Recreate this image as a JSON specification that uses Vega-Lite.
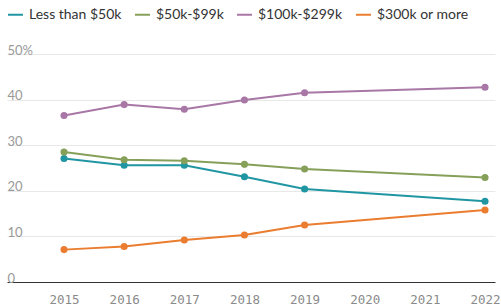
{
  "$schema": "https://vega.github.io/schema/vega-lite/v6.json",
  "width": 488,
  "height": 228,
  "autosize": "none",
  "padding": {"left": 7, "top": 54, "right": 6, "bottom": 25},
  "background": "white",
  "config": {"view": {"stroke": null}, "font": "Lato"},
  "data": {
    "values": [
      {"year": 2015, "group": "Less than $50k", "pct": 27.1},
      {"year": 2016, "group": "Less than $50k", "pct": 25.6},
      {"year": 2017, "group": "Less than $50k", "pct": 25.6},
      {"year": 2018, "group": "Less than $50k", "pct": 23.1},
      {"year": 2019, "group": "Less than $50k", "pct": 20.4},
      {"year": 2022, "group": "Less than $50k", "pct": 17.7},
      {"year": 2015, "group": "$50k-$99k", "pct": 28.5},
      {"year": 2016, "group": "$50k-$99k", "pct": 26.8},
      {"year": 2017, "group": "$50k-$99k", "pct": 26.6},
      {"year": 2018, "group": "$50k-$99k", "pct": 25.8},
      {"year": 2019, "group": "$50k-$99k", "pct": 24.8},
      {"year": 2022, "group": "$50k-$99k", "pct": 22.9},
      {"year": 2015, "group": "$100k-$299k", "pct": 36.5},
      {"year": 2016, "group": "$100k-$299k", "pct": 38.9},
      {"year": 2017, "group": "$100k-$299k", "pct": 37.9},
      {"year": 2018, "group": "$100k-$299k", "pct": 39.9},
      {"year": 2019, "group": "$100k-$299k", "pct": 41.5},
      {"year": 2022, "group": "$100k-$299k", "pct": 42.7},
      {"year": 2015, "group": "$300k or more", "pct": 7.1},
      {"year": 2016, "group": "$300k or more", "pct": 7.8},
      {"year": 2017, "group": "$300k or more", "pct": 9.2},
      {"year": 2018, "group": "$300k or more", "pct": 10.3},
      {"year": 2019, "group": "$300k or more", "pct": 12.5},
      {"year": 2022, "group": "$300k or more", "pct": 15.8}
    ]
  },
  "mark": {"type": "line", "strokeWidth": 2, "point": {"filled": true, "size": 50, "opacity": 1}},
  "encoding": {
    "x": {
      "field": "year",
      "type": "quantitative",
      "scale": {"domain": [2014.052, 2022.166], "nice": false, "zero": false},
      "axis": {
        "values": [2015, 2016, 2017, 2018, 2019, 2020, 2021, 2022],
        "format": "d",
        "title": null,
        "domain": false,
        "ticks": false,
        "grid": false,
        "labelPadding": 11,
        "labelFont": "DejaVu Sans Mono",
        "labelFontSize": 12.5,
        "labelColor": "#8a8a8a",
        "labelFlush": false
      }
    },
    "y": {
      "field": "pct",
      "type": "quantitative",
      "scale": {"domain": [0, 50], "nice": false},
      "axis": {
        "values": [0, 10, 20, 30, 40, 50],
        "title": null,
        "domain": false,
        "ticks": false,
        "grid": true,
        "gridColor": {"condition": {"test": "datum.value === 0", "value": "#333333"}, "value": "#e8e8e8"},
        "gridWidth": 1,
        "labelAlign": "left",
        "labelBaseline": "alphabetic",
        "labelPadding": 0,
        "labelDy": -4,
        "labelFont": "Lato",
        "labelFontSize": 13,
        "labelColor": "#999999",
        "labelExpr": "datum.value === 50 ? datum.label + '%' : datum.label"
      }
    },
    "color": {
      "field": "group",
      "type": "nominal",
      "scale": {
        "domain": ["Less than $50k", "$50k-$99k", "$100k-$299k", "$300k or more"],
        "range": ["#2196a3", "#86a05a", "#a877a6", "#ea7d2f"]
      },
      "legend": {
        "title": null,
        "orient": "none",
        "legendX": 0,
        "legendY": -48,
        "direction": "horizontal",
        "symbolType": "stroke",
        "symbolSize": 225,
        "symbolStrokeWidth": 2,
        "labelFont": "Lato",
        "labelFontSize": 14,
        "labelColor": "#333333",
        "labelOffset": 5,
        "columnPadding": 9
      }
    }
  }
}
